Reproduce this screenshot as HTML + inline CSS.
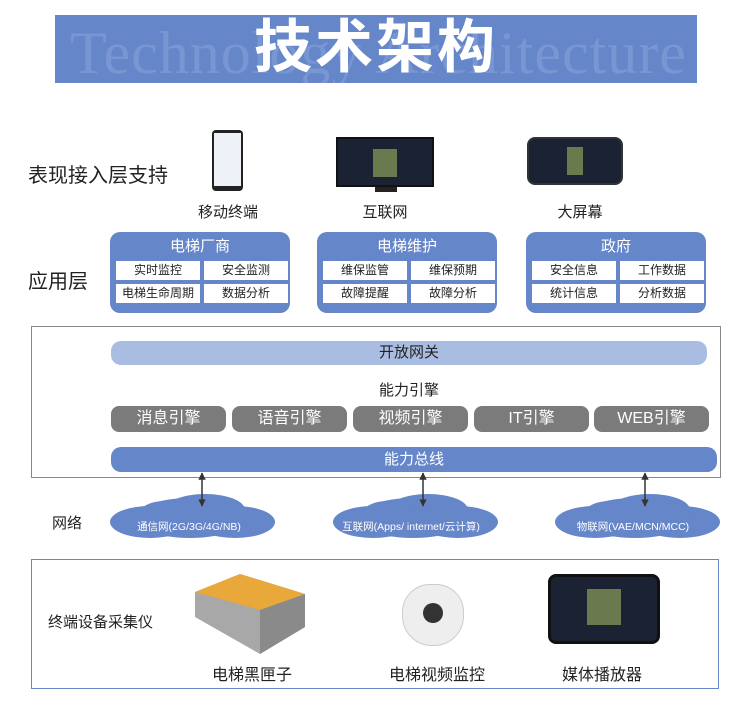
<!DOCTYPE html>
<html><head><meta charset="utf-8"><style>
*{margin:0;padding:0;box-sizing:border-box}
body{width:750px;height:702px;background:#fff;position:relative;overflow:hidden;font-family:"Liberation Sans","Noto Sans CJK SC",sans-serif;color:#222}
.a{position:absolute}
.c{text-align:center}
.blue{background:#6586c8}
.app{position:absolute;background:#6586c8;border-radius:10px;top:232px;width:180px;height:81px}
.app .t{color:#fff;font-size:15px;text-align:center;margin-top:5px;height:24px;line-height:20px}
.app .cell{position:absolute;background:#fff;width:84px;height:19px;font-size:12px;line-height:19px;text-align:center;color:#222}
.eng{position:absolute;top:406px;width:115px;height:26px;background:#7b7b7b;border-radius:8px;color:#fff;font-size:16px;line-height:26px;text-align:center}
.cap{position:absolute;font-size:15px;text-align:center;width:120px}
</style></head><body>
<div class="a blue" style="left:55px;top:15px;width:642px;height:68px;overflow:hidden">
<div class="a" style="left:15px;top:4px;font-family:'Liberation Serif',serif;font-size:60px;color:#7896d2;white-space:nowrap;letter-spacing:1px">Technology Architecture</div>
<div class="a c" style="left:0;width:642px;top:-1px;font-size:58px;color:#fff;font-weight:bold;line-height:68px;letter-spacing:3px">技术架构</div>
</div>

<div class="a" style="left:28px;top:159px;font-size:20px">表现接入层支持</div>
<div class="a" style="left:28px;top:265px;font-size:20px">应用层</div>

<div class="a" style="left:212px;top:130px;width:31px;height:61px;background:#222;border-radius:4px"><div style="margin:3px 2px;height:53px;background:#eef2f8"></div></div>
<div class="a" style="left:336px;top:137px;width:98px;height:50px;background:#1b2233;border:2px solid #111"><div style="margin:10px 35px;height:28px;background:#6b7a4e"></div></div>
<div class="a" style="left:375px;top:187px;width:22px;height:5px;background:#222"></div>
<div class="a" style="left:527px;top:137px;width:96px;height:48px;background:#1b2233;border:2px solid #333;border-radius:8px"><div style="margin:8px 38px;height:28px;background:#6b7a4e"></div></div>
<div class="cap" style="left:168px;top:201px">移动终端</div>
<div class="cap" style="left:325px;top:201px">互联网</div>
<div class="cap" style="left:520px;top:201px">大屏幕</div>

<div class="app" style="left:110px"><div class="t">电梯厂商</div>
<div class="cell" style="left:6px;top:29px">实时监控</div><div class="cell" style="left:94px;top:29px">安全监测</div>
<div class="cell" style="left:6px;top:52px">电梯生命周期</div><div class="cell" style="left:94px;top:52px">数据分析</div></div>
<div class="app" style="left:317px"><div class="t">电梯维护</div>
<div class="cell" style="left:6px;top:29px">维保监管</div><div class="cell" style="left:94px;top:29px">维保预期</div>
<div class="cell" style="left:6px;top:52px">故障提醒</div><div class="cell" style="left:94px;top:52px">故障分析</div></div>
<div class="app" style="left:526px"><div class="t">政府</div>
<div class="cell" style="left:6px;top:29px">安全信息</div><div class="cell" style="left:94px;top:29px">工作数据</div>
<div class="cell" style="left:6px;top:52px">统计信息</div><div class="cell" style="left:94px;top:52px">分析数据</div></div>

<div class="a" style="left:31px;top:326px;width:690px;height:152px;border:1px solid #888"></div>
<div class="a c" style="left:111px;top:341px;width:596px;height:24px;background:#a9bde2;border-radius:10px;font-size:15px;line-height:24px">开放网关</div>
<div class="a c" style="left:111px;top:379px;width:596px;font-size:15px">能力引擎</div>
<div class="eng" style="left:111px">消息引擎</div>
<div class="eng" style="left:232px">语音引擎</div>
<div class="eng" style="left:353px">视频引擎</div>
<div class="eng" style="left:474px">IT引擎</div>
<div class="eng" style="left:594px">WEB引擎</div>
<div class="a c blue" style="left:111px;top:447px;width:606px;height:25px;border-radius:10px;font-size:15px;line-height:25px;color:#fff">能力总线</div>

<svg class="a" style="left:0;top:0" width="750" height="702">
<defs><marker id="m" viewBox="0 0 10 10" refX="9" refY="5" markerWidth="5" markerHeight="5" orient="auto-start-reverse"><path d="M0 0L10 5L0 10z" fill="#333"/></marker></defs>
<g fill="#6586c8">
<g transform="translate(110,0)"><ellipse cx="40" cy="522" rx="40" ry="16"/><ellipse cx="125" cy="522" rx="40" ry="16"/><ellipse cx="80" cy="518" rx="55" ry="20"/><ellipse cx="95" cy="510" rx="40" ry="16"/><ellipse cx="55" cy="513" rx="25" ry="12"/></g>
<g transform="translate(333,0)"><ellipse cx="40" cy="522" rx="40" ry="16"/><ellipse cx="125" cy="522" rx="40" ry="16"/><ellipse cx="80" cy="518" rx="55" ry="20"/><ellipse cx="95" cy="510" rx="40" ry="16"/><ellipse cx="55" cy="513" rx="25" ry="12"/></g>
<g transform="translate(555,0)"><ellipse cx="40" cy="522" rx="40" ry="16"/><ellipse cx="125" cy="522" rx="40" ry="16"/><ellipse cx="80" cy="518" rx="55" ry="20"/><ellipse cx="95" cy="510" rx="40" ry="16"/><ellipse cx="55" cy="513" rx="25" ry="12"/></g>
</g>
<g stroke="#333" stroke-width="1.5" marker-start="url(#m)" marker-end="url(#m)">
<line x1="202" y1="473" x2="202" y2="506"/><line x1="423" y1="473" x2="423" y2="506"/><line x1="645" y1="473" x2="645" y2="506"/>
</g>
<g fill="#fff" font-size="10.5" text-anchor="middle" font-family="Liberation Sans, Noto Sans CJK SC, sans-serif">
<text x="189" y="530">通信网(2G/3G/4G/NB)</text>
<text x="411" y="530">互联网(Apps/ internet/云计算)</text>
<text x="633" y="530">物联网(VAE/MCN/MCC)</text>
</g>
</svg>
<div class="a" style="left:52px;top:512px;font-size:15px">网络</div>

<div class="a" style="left:31px;top:559px;width:688px;height:130px;border:1px solid #6586c8"></div>
<div class="a" style="left:48px;top:611px;font-size:15px">终端设备采集仪</div>
<svg class="a" style="left:190px;top:572px" width="120" height="85">
<polygon points="5,20 50,2 115,22 115,55 70,82 5,45" fill="#a8a8a8"/>
<polygon points="5,20 50,2 115,22 70,38" fill="#e8a83a"/>
<polygon points="70,38 115,22 115,55 70,82" fill="#8a8a8a"/>
</svg>
<div class="a" style="left:402px;top:584px;width:62px;height:62px;background:#eee;border-radius:28px 28px 30px 30px;border:1px solid #ccc"><div style="margin:18px auto;width:20px;height:20px;border-radius:50%;background:#333"></div></div>
<div class="a" style="left:548px;top:574px;width:112px;height:70px;background:#1b2233;border:3px solid #111;border-radius:8px"><div style="margin:12px 36px;height:36px;background:#6b7a4e"></div></div>
<div class="cap" style="left:192px;top:661px;font-size:16px">电梯黑匣子</div>
<div class="cap" style="left:377px;top:661px;font-size:16px">电梯视频监控</div>
<div class="cap" style="left:542px;top:661px;font-size:16px">媒体播放器</div>
</body></html>
